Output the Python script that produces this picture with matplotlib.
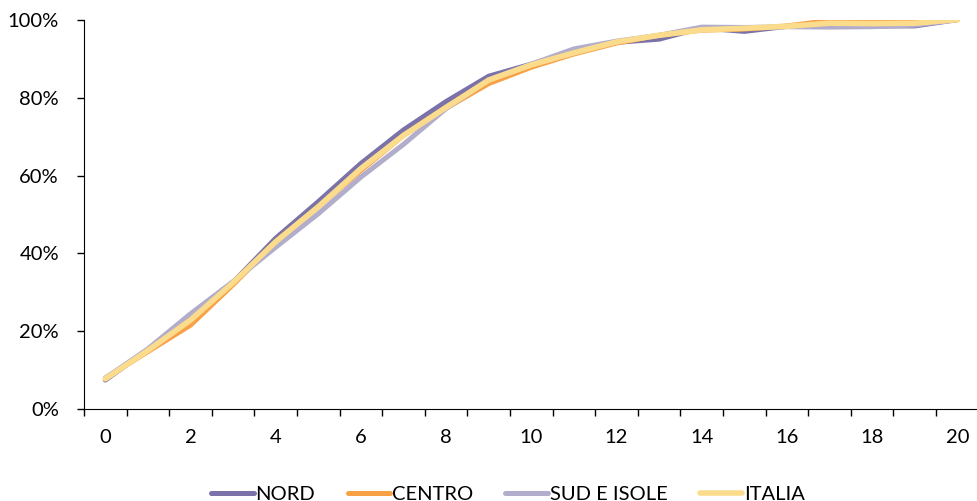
import matplotlib
matplotlib.use("Agg")
import matplotlib.pyplot as plt
import numpy as np

# cumulative share (%) by year, 0..20
years = list(range(21))
nord = [7.5, 15.3, 24.3, 32.6, 43.9, 53.3, 63.1, 71.7, 79.0, 85.5, 88.6,
        91.8, 94.2, 95.0, 97.9, 97.0, 98.3, 98.6, 98.4, 98.4, 100]
centro = [8.0, 14.8, 21.6, 32.0, 43.0, 52.0, 61.3, 70.3, 77.3, 83.6, 87.8,
          91.2, 94.0, 96.0, 97.3, 97.6, 98.4, 99.8, 99.3, 99.3, 100]
sud = [8.0, 15.5, 24.5, 32.8, 41.6, 50.2, 59.6, 68.0, 77.2, 84.6, 88.6,
       92.5, 94.5, 96.0, 98.1, 98.0, 98.2, 98.1, 98.2, 98.6, 100]
italia = [7.8, 15.1, 22.9, 32.5, 43.0, 52.0, 61.8, 70.3, 77.5, 84.5, 88.4,
          91.5, 94.3, 96.0, 97.4, 97.8, 98.3, 99.1, 99.0, 99.1, 100]

series = [("NORD", nord, "#7A72A8", 3.6),
          ("CENTRO", centro, "#F8A046", 3.6),
          ("SUD E ISOLE", sud, "#B2ADCB", 3.6),
          ("ITALIA", italia, "#FBDC8C", 4.0)]

plt.rcParams['font.family'] = ['Lato', 'DejaVu Sans']

fig = plt.figure(figsize=(9.77, 5.01), dpi=100)
ax = fig.add_axes([84 / 977, 91.7 / 501, 894.6 / 977, 389.6 / 501])

for name, vals, col, lw in series:
    ax.plot(years, vals, color=col, lw=lw, label=name,
            solid_capstyle="round", solid_joinstyle="round")

ax.set_xlim(-0.5, 20.5)
ax.set_ylim(0, 100)

ax.set_xticks(range(0, 21, 2))
ax.set_xticks(np.arange(-0.5, 21, 1), minor=True)
ax.tick_params(axis="x", which="major", length=0, pad=14, labelsize=14.5)
ax.tick_params(axis="x", which="minor", length=5, width=1)

ax.set_yticks(range(0, 101, 20))
ax.set_yticklabels([f"{v}%" for v in range(0, 101, 20)])
ax.tick_params(axis="y", length=5, width=1, pad=13, labelsize=14.5)

for s in ["top", "right"]:
    ax.spines[s].set_visible(False)

fig.legend(loc="lower center", bbox_to_anchor=(0.52, -0.04), ncol=4,
           frameon=False, fontsize=14.5, handlelength=2.1,
           handletextpad=0.1, columnspacing=1.6)

fig.savefig("out.png", dpi=100)
